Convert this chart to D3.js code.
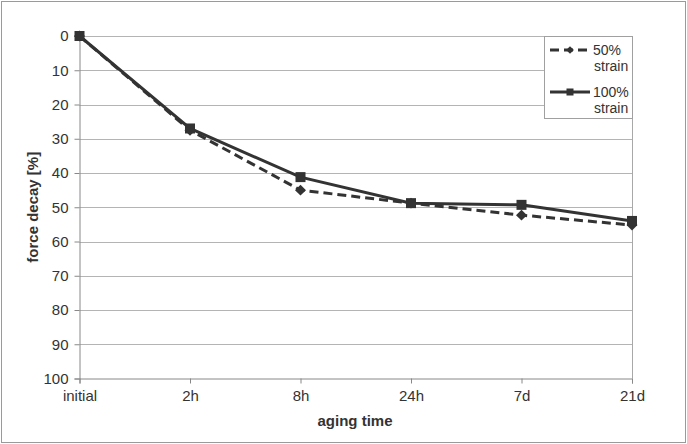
<!DOCTYPE html>
<html>
<head>
<meta charset="utf-8">
<script src="https://cdn.jsdelivr.net/npm/d3@7"></script>
<style>
  html, body { margin: 0; padding: 0; background: #fff; }
  svg { display: block; font-family: "Liberation Sans", Arial, sans-serif; }
</style>
</head>
<body>
<svg id="chart" width="687" height="444"></svg>
<script>
const categories = ["initial", "2h", "8h", "24h", "7d", "21d"];
const strain50 = [0, 27.5, 45, 48.8, 52.3, 55.2];
const strain100 = [0, 27, 41.2, 48.8, 49.3, 54];
const yTicks = [0, 10, 20, 30, 40, 50, 60, 70, 80, 90, 100];
const seriesNames = ["50%|strain", "100%|strain"];

(function () {
const svg = d3.select("#chart");
const W = 687, H = 444;
const pL = 79.5, pR = 632, pT = 36, pB = 378.5;
const ink = "#333";

// outer border
svg.append("rect").attr("x", 1.5).attr("y", 1.5).attr("width", W - 3).attr("height", H - 3)
  .attr("fill", "#fff").attr("stroke", "#9a9a9a").attr("stroke-width", 1);

const x = d3.scalePoint().domain(categories).range([pL, pR]);
const y = d3.scaleLinear().domain([0, 100]).range([pT, pB]);

// gridlines
svg.append("g").selectAll("line").data(yTicks.filter(d => d !== 100)).join("line")
  .attr("x1", pL).attr("x2", pR)
  .attr("y1", d => Math.round(y(d)) + 0.5).attr("y2", d => Math.round(y(d)) + 0.5)
  .attr("stroke", "#b4b4b4").attr("stroke-width", 1);
// right border of plot
svg.append("line").attr("x1", pR + 0.5).attr("x2", pR + 0.5).attr("y1", pT).attr("y2", pB)
  .attr("stroke", "#a8a8a8");

// y axis
const yAxis = svg.append("g").attr("transform", `translate(${pL},0)`)
  .call(d3.axisLeft(y).tickValues(yTicks).tickSizeOuter(0).tickSize(5).tickPadding(6));
yAxis.select(".domain").attr("stroke", "#888");
yAxis.selectAll(".tick line").attr("stroke", "#888");
yAxis.selectAll(".tick text").attr("fill", ink).attr("font-size", 15)
  .attr("font-family", "Liberation Sans, Arial, sans-serif");

// x axis
const xAxis = svg.append("g").attr("transform", `translate(0,${pB})`)
  .call(d3.axisBottom(x).tickSizeOuter(0).tickSize(5).tickPadding(7));
xAxis.select(".domain").attr("stroke", "#888");
xAxis.selectAll(".tick line").attr("stroke", "#888");
xAxis.selectAll(".tick text").attr("fill", ink).attr("font-size", 15)
  .attr("font-family", "Liberation Sans, Arial, sans-serif");

// axis titles
svg.append("text").attr("x", 355).attr("y", 426).attr("text-anchor", "middle")
  .attr("font-size", 15).attr("font-weight", "bold").attr("fill", ink).text("aging time");
svg.append("text").attr("transform", `translate(38,${(pT + pB) / 2}) rotate(-90)`)
  .attr("text-anchor", "middle").attr("font-size", 15).attr("font-weight", "bold")
  .attr("fill", ink).text("force decay [%]");

const line = d3.line().x((d, i) => x(categories[i])).y(d => y(d));

// 50% strain (dashed, diamonds)
svg.append("path").datum(strain50).attr("d", line).attr("fill", "none")
  .attr("stroke", ink).attr("stroke-width", 3).attr("stroke-dasharray", "9,5");
// 100% strain (solid, squares)
svg.append("path").datum(strain100).attr("d", line).attr("fill", "none")
  .attr("stroke", ink).attr("stroke-width", 3);

svg.append("g").selectAll("path").data(strain50).join("path")
  .attr("d", d3.symbol().type(d3.symbolSquare).size(60))
  .attr("transform", (d, i) => `translate(${x(categories[i])},${y(d)}) rotate(45)`)
  .attr("fill", ink);
svg.append("g").selectAll("rect").data(strain100).join("rect")
  .attr("x", (d, i) => x(categories[i]) - 5).attr("y", d => y(d) - 5)
  .attr("width", 10).attr("height", 10).attr("fill", ink);

// legend
const lg = svg.append("g");
lg.append("rect").attr("x", 544.5).attr("y", 36.5).attr("width", 88).attr("height", 82)
  .attr("fill", "#fff").attr("stroke", "#a0a0a0");
const rows = [{y: 50, dash: "9,5", marker: "diamond"}, {y: 92, dash: null, marker: "square"}];
rows.forEach((r, i) => {
  lg.append("line").attr("x1", 550).attr("x2", 590).attr("y1", r.y).attr("y2", r.y)
    .attr("stroke", ink).attr("stroke-width", 3).attr("stroke-dasharray", r.dash);
  if (r.marker === "diamond") {
    lg.append("path").attr("d", d3.symbol().type(d3.symbolSquare).size(30)())
      .attr("transform", `translate(570,${r.y}) rotate(45)`).attr("fill", ink);
  } else {
    lg.append("rect").attr("x", 566.5).attr("y", r.y - 3.5).attr("width", 7).attr("height", 7).attr("fill", ink);
  }
  const parts = seriesNames[i].split("|");
  const t = lg.append("text").attr("x", 593).attr("y", r.y + 5).attr("font-size", 14).attr("fill", ink);
  t.append("tspan").attr("x", 593).text(parts[0]);
  t.append("tspan").attr("x", 594).attr("dy", 16).text(parts[1]);
});
})();
</script>
</body>
</html>
